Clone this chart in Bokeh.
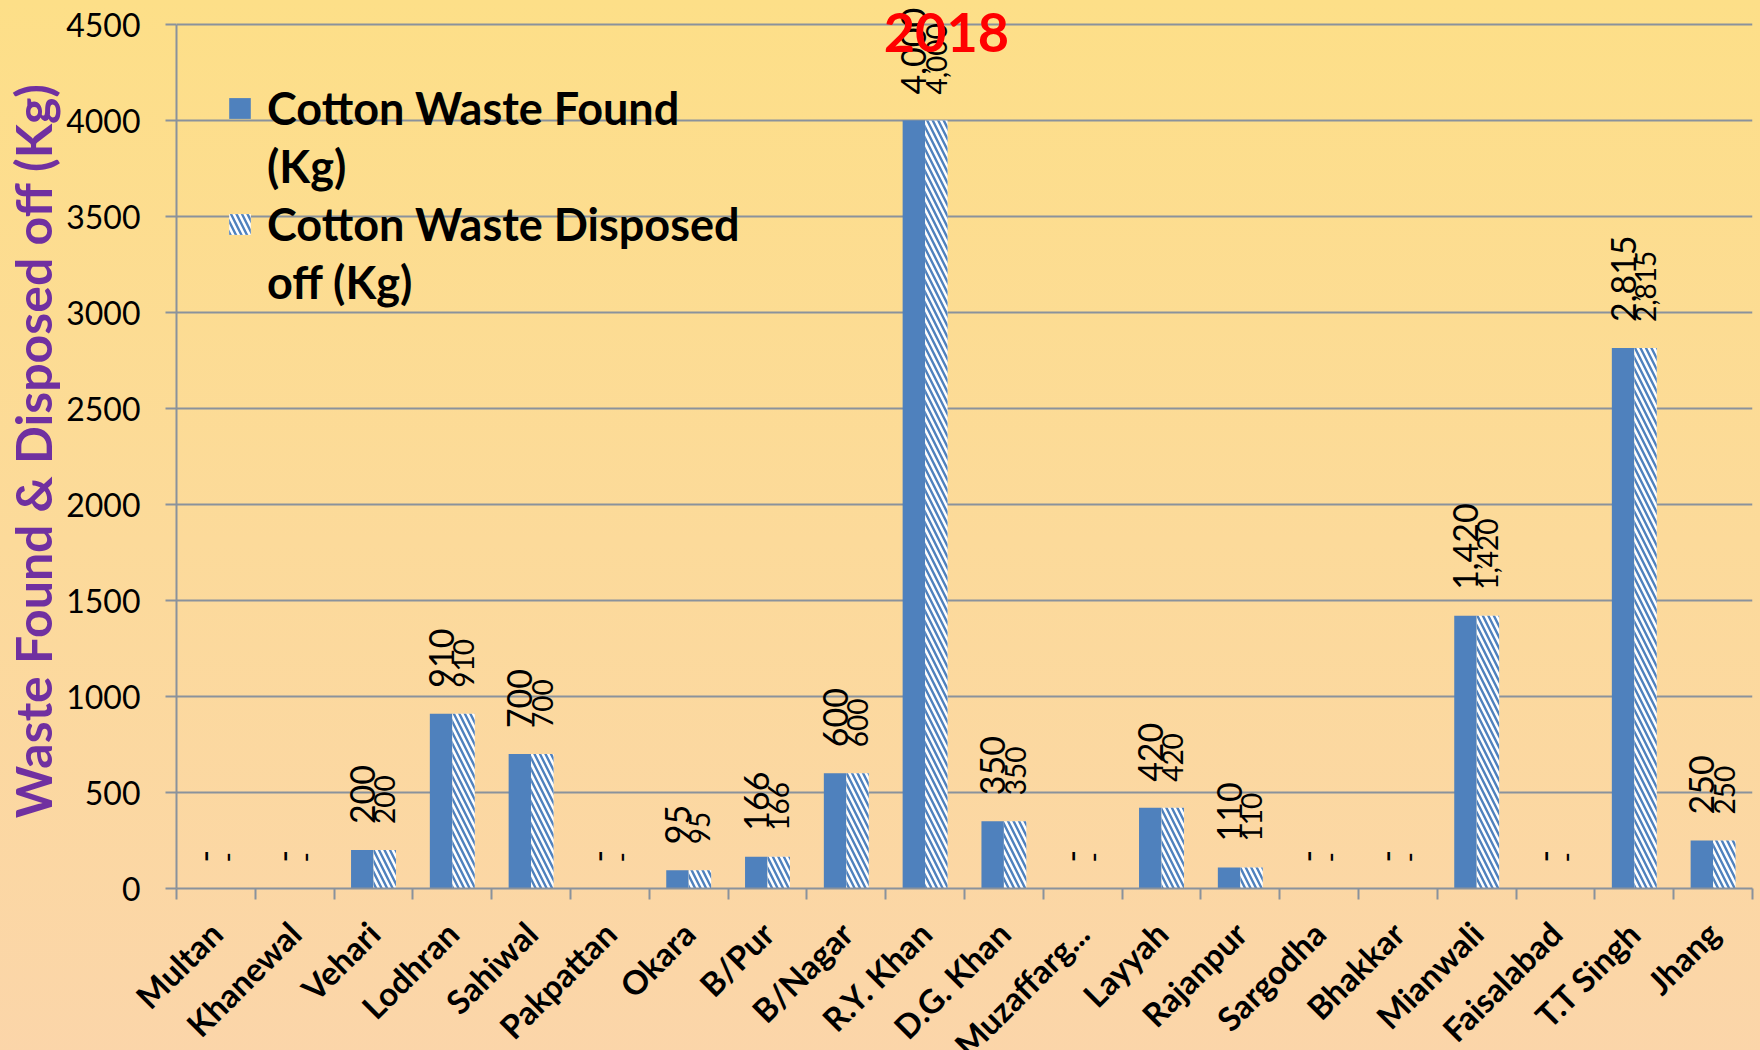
import numpy as np
from bokeh.plotting import figure
from bokeh.models import Range1d, FixedTicker, Legend, LegendItem, Label, ColumnDataSource
from bokeh.core.properties import value
from bokeh.embed import file_html
from bokeh.resources import INLINE

# ---------------- data ----------------
districts = ["Multan", "Khanewal", "Vehari", "Lodhran", "Sahiwal", "Pakpattan", "Okara",
             "B/Pur", "B/Nagar", "R.Y. Khan", "D.G. Khan", "Muzaffarg...", "Layyah",
             "Rajanpur", "Sargodha", "Bhakkar", "Mianwali", "Faisalabad", "T.T Singh", "Jhang"]
found = [0, 0, 200, 910, 700, 0, 95, 166, 600, 4000, 350, 0, 420, 110, 0, 0, 1420, 0, 2815, 250]
disposed = [0, 0, 200, 910, 700, 0, 95, 166, 600, 4000, 350, 0, 420, 110, 0, 0, 1420, 0, 2815, 250]
y_ticks = [0, 500, 1000, 1500, 2000, 2500, 3000, 3500, 4000, 4500]
legend_lines = [["Cotton Waste Found", "(Kg)"], ["Cotton Waste Disposed", "off (Kg)"]]
y_title = "Waste Found & Disposed off  (Kg)"
chart_title = "2018"

# ---------------- styling ----------------
BLUE = "#4F81BD"
GRID = "#8A929C"
FONT = "Lato"
Y_MAX = 4500
Y_TOP = Y_MAX + Y_MAX * 24 / 864   # a little headroom above the last gridline for the title

n = len(districts)
centers = np.arange(n) + 0.5
bw = 0.285


def lab(v):
    return f"{v:,}" if v else "-"


src = ColumnDataSource(dict(
    xf=centers - bw / 2, xd=centers + bw / 2,
    found=found, disposed=disposed,
    lf=[lab(v) for v in found], ld=[lab(v) for v in disposed],
))

p = figure(frame_width=1576, frame_height=888,
           x_range=Range1d(0, n), y_range=Range1d(0, Y_TOP),
           output_backend="svg", toolbar_location=None,
           min_border_left=176, min_border_right=8, min_border_top=0, min_border_bottom=162)
p.border_fill_color = None
p.background_fill_color = None
p.outline_line_color = None
p.styles = {"background": "linear-gradient(180deg, #FDDF88 0%, #FCDA9A 50%, #FBD5AA 100%)"}

r1 = p.vbar(x="xf", top="found", width=bw, source=src, fill_color=BLUE, line_color=None)
r2 = p.vbar(x="xd", top="disposed", width=bw, source=src, fill_color="white", line_color=None,
            hatch_pattern="left_diagonal_line", hatch_color=BLUE, hatch_scale=11, hatch_weight=2.4)
r0 = p.vbar(x=[], top=[], width=bw, fill_alpha=0, line_alpha=0)  # blank legend glyph

p.text(x="xf", y="found", text="lf", source=src, angle=np.pi / 2, text_align="left",
       text_baseline="middle", y_offset=-26, text_font=value(FONT), text_font_size="34px",
       text_color="black")
p.text(x="xd", y="disposed", text="ld", source=src, angle=np.pi / 2, text_align="left",
       text_baseline="middle", y_offset=-26, text_font=value(FONT), text_font_size="28px",
       text_color="black")

# x axis
xa = p.xaxis[0]
xa.ticker = FixedTicker(ticks=list(centers), minor_ticks=list(range(n + 1)))
xa.major_label_overrides = {float(c): d for c, d in zip(centers, districts)}
xa.major_label_orientation = np.pi / 4
xa.major_tick_line_color = None
xa.major_tick_out = 0
xa.major_tick_in = 0
xa.minor_tick_line_color = GRID
xa.minor_tick_line_width = 2
xa.minor_tick_out = 11
xa.minor_tick_in = 0
xa.axis_line_color = GRID
xa.axis_line_width = 2
xa.major_label_text_font = FONT
xa.major_label_text_font_style = "bold"
xa.major_label_text_font_size = "33px"
xa.major_label_text_color = "black"
xa.major_label_standoff = 28

# y axis
ya = p.yaxis[0]
ya.ticker = FixedTicker(ticks=y_ticks)
ya.bounds = (0, Y_MAX)
ya.major_tick_out = 11
ya.major_tick_in = 0
ya.major_tick_line_color = GRID
ya.major_tick_line_width = 2
ya.minor_tick_line_color = None
ya.axis_line_color = GRID
ya.axis_line_width = 2
ya.major_label_text_font = FONT
ya.major_label_text_font_size = "32px"
ya.major_label_text_color = "black"
ya.major_label_standoff = 25
ya.axis_label = y_title
ya.axis_label_text_font = FONT
ya.axis_label_text_font_style = "bold"
ya.axis_label_text_font_size = "50px"
ya.axis_label_text_color = "#7030A0"
ya.axis_label_standoff = 0

p.xgrid.grid_line_color = None
p.ygrid.grid_line_color = GRID
p.ygrid.grid_line_width = 2
p.ygrid.ticker = FixedTicker(ticks=y_ticks)

# chart title
p.add_layout(Label(x=9.77, y=Y_TOP - 32 * Y_TOP / 888, text=chart_title, text_align="center",
                   text_baseline="middle", text_font=FONT, text_font_style="bold",
                   text_font_size="54px", text_color="#FF0000"))

legend = Legend(items=[LegendItem(label=legend_lines[0][0], renderers=[r1]),
                       LegendItem(label=legend_lines[0][1], renderers=[r0]),
                       LegendItem(label=legend_lines[1][0], renderers=[r2]),
                       LegendItem(label=legend_lines[1][1], renderers=[r0])],
                location=(50, 579))
legend.border_line_color = None
legend.background_fill_alpha = 0
legend.label_text_font = FONT
legend.label_text_font_style = "bold"
legend.label_text_font_size = "45px"
legend.label_text_color = "black"
legend.glyph_width = 27
legend.glyph_height = 26
legend.label_standoff = 14
legend.padding = 0
legend.margin = 0
legend.spacing = 4
p.add_layout(legend)

open("out.html", "w").write(file_html(p, INLINE))
